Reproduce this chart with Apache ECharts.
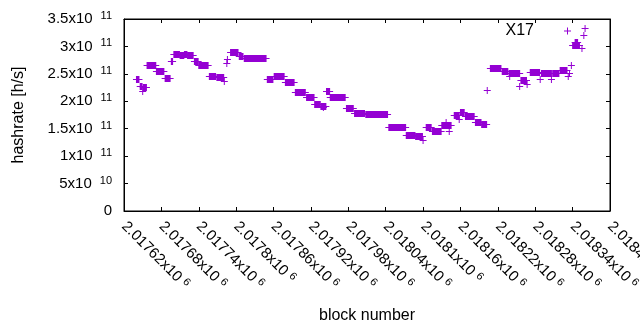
<!DOCTYPE html>
<html>
<head>
<meta charset="UTF-8">
<title>hashrate</title>
<style type="text/css">
	html, body { margin: 0; padding: 0; background: #fff; }
	#chart { width: 640px; height: 330px; }
</style>
<script type="text/javascript" src="https://cdn.jsdelivr.net/npm/echarts@6.0.0/dist/echarts.min.js"></script>
</head>
<body>
<div id="chart"></div>
<script type="text/javascript">
	// runs of blocks with the same hashrate (start == end for a single block)
	var blockStart = [2017640, 2017646, 2017650, 2017651, 2017657, 2017672, 2017686, 2017696, 2017700, 2017710,
		2017717, 2017722, 2017733, 2017740, 2017757, 2017769, 2017781, 2017785, 2017786, 2017791,
		2017805, 2017813, 2017850, 2017861, 2017879, 2017895, 2017913, 2017926, 2017936, 2017940,
		2017945, 2017951, 2017977, 2017990, 2018008, 2018045, 2018073, 2018088, 2018100, 2018105,
		2018115, 2018130, 2018137, 2018142, 2018150, 2018158, 2018160, 2018168, 2018184, 2018194,
		2018203, 2018208, 2018227, 2018238, 2018239, 2018255, 2018257, 2018267, 2018272, 2018288,
		2018290, 2018306, 2018308, 2018320, 2018333, 2018335, 2018338, 2018340, 2018344, 2018355,
		2018358, 2018360];
	var blockEnd = [2017644, 2017649, 2017650, 2017656, 2017671, 2017684, 2017694, 2017698, 2017709, 2017716,
		2017721, 2017731, 2017739, 2017755, 2017767, 2017780, 2017781, 2017785, 2017786, 2017803,
		2017811, 2017848, 2017859, 2017877, 2017893, 2017911, 2017925, 2017935, 2017944, 2017940,
		2017950, 2017975, 2017988, 2018006, 2018043, 2018072, 2018087, 2018099, 2018100, 2018113,
		2018129, 2018145, 2018137, 2018142, 2018158, 2018158, 2018166, 2018182, 2018193, 2018202,
		2018203, 2018225, 2018236, 2018255, 2018239, 2018255, 2018266, 2018267, 2018287, 2018288,
		2018306, 2018306, 2018318, 2018331, 2018333, 2018335, 2018338, 2018351, 2018348, 2018355,
		2018358, 2018360];
	var hashrate = [2.41e11, 2.28e11, 2.19e11, 2.26e11, 2.655e11, 2.55e11, 2.43e11, 2.74e11, 2.87e11, 2.85e11,
		2.87e11, 2.85e11, 2.73e11, 2.67e11, 2.465e11, 2.44e11, 2.37e11, 2.70e11, 2.77e11, 2.89e11,
		2.83e11, 2.78e11, 2.41e11, 2.465e11, 2.355e11, 2.175e11, 2.08e11, 1.945e11, 1.92e11, 1.89e11,
		2.19e11, 2.08e11, 1.885e11, 1.795e11, 1.775e11, 1.535e11, 1.39e11, 1.365e11, 1.30e11, 1.53e11,
		1.46e11, 1.565e11, 1.63e11, 1.46e11, 1.755e11, 1.68e11, 1.81e11, 1.74e11, 1.63e11, 1.59e11,
		2.20e11, 2.61e11, 2.55e11, 2.51e11, 2.47e11, 2.28e11, 2.39e11, 2.31e11, 2.53e11, 2.41e11,
		2.51e11, 2.41e11, 2.52e11, 2.57e11, 2.46e11, 2.52e11, 2.67e11, 3.03e11, 3.08e11, 2.97e11,
		3.20e11, 3.34e11];

	var xTickLabels = ['2.01762', '2.01768', '2.01774', '2.0178', '2.01786', '2.01792', '2.01798',
		'2.01804', '2.0181', '2.01816', '2.01822', '2.01828', '2.01834', '2.0184'];
	var yTickBase = ['0', '5x10', '1x10', '1.5x10', '2x10', '2.5x10', '3x10', '3.5x10'];
	var yTickExp = ['', '10', '11', '11', '11', '11', '11', '11'];

	var xMin = 2017620, xMax = 2018400, xStep = 60;
	var yMax = 3.5e11, yStep = 0.5e11;
	var purple = '#9400d3';
	var font = 'Liberation Sans';

	var data = [];
	for (var i = 0; i < blockStart.length; i++) {
		data.push([blockStart[i], blockEnd[i], hashrate[i]]);
	}

	var mychar = echarts.init(document.getElementById('chart'));

	// a run of "+" points: the vertical strokes merge into a bar
	function renderRun(params, api) {
		var p1 = api.coord([api.value(0), api.value(2)]);
		var p2 = api.coord([api.value(1), api.value(2)]);
		var y = Math.round(p1[1]);
		var x1 = p1[0], x2 = p2[0];
		return {
			type: 'group',
			children: [
				{ type: 'rect', shape: { x: x1 - 0.5, y: y - 3, width: x2 - x1 + 1, height: 7 }, style: { fill: purple } },
				{ type: 'rect', shape: { x: x1 - 3.5, y: y, width: x2 - x1 + 7, height: 1 }, style: { fill: purple } }
			]
		};
	}

	var axisLine = { show: true, onZero: false, lineStyle: { color: '#000', width: 1 } };
	var tick = { show: true, inside: true, length: 4, lineStyle: { color: '#000', width: 1 } };
	function supRich(gap) {
		return {
			b: { fontFamily: font, fontSize: 15, color: '#000', lineHeight: 17 },
			s: { fontFamily: font, fontSize: 11, color: '#000', verticalAlign: 'top', lineHeight: 17, padding: [0, 0, 0, gap] }
		};
	}

	var option = {
		animation: false,
		textStyle: { fontFamily: font },
		grid: {
			left: 124, right: 30, top: 19, bottom: 119,
			outerBoundsMode: 'none', containLabel: false,
			show: true, borderColor: '#000', borderWidth: 1, backgroundColor: 'transparent'
		},
		legend: {
			right: 69,
			top: 23,
			padding: 0,
			align: 'right',
			itemWidth: 7,
			itemHeight: 7,
			textStyle: { fontFamily: font, fontSize: 16, color: '#000', padding: [0, 25, 0, 0] },
			data: [{ name: 'X17', icon: 'path://M0,3H7V4H0Z M3,0H4V7H3Z', itemStyle: { color: purple } }]
		},
		xAxis: [{
			type: 'value',
			min: xMin,
			max: xMax,
			interval: xStep,
			name: 'block number',
			nameLocation: 'middle',
			nameGap: 97,
			nameTextStyle: { fontFamily: font, fontSize: 16, color: '#000' },
			axisLine: axisLine,
			axisTick: tick,
			splitLine: { show: false },
			axisLabel: {
				rotate: -45,
				margin: 13,
				color: '#000',
				fontFamily: font,
				showMaxLabel: true,
				hideOverlap: false,
				formatter: function (v) {
					var k = Math.round((v - xMin) / xStep);
					return '{b|' + xTickLabels[k] + 'x10}{s|6}';
				},
				rich: supRich(4)
			}
		}, {
			type: 'value',
			gridIndex: 0,
			position: 'top',
			min: xMin,
			max: xMax,
			interval: xStep,
			axisLine: axisLine,
			axisTick: tick,
			axisLabel: { show: false },
			splitLine: { show: false }
		}],
		yAxis: [{
			type: 'value',
			min: 0,
			max: yMax,
			interval: yStep,
			name: 'hashrate [h/s]',
			nameLocation: 'middle',
			nameGap: 97,
			nameTextStyle: { fontFamily: font, fontSize: 16, color: '#000' },
			axisLine: axisLine,
			axisTick: tick,
			splitLine: { show: false },
			axisLabel: {
				margin: 12,
				color: '#000',
				formatter: function (v) {
					var k = Math.round(v / yStep);
					if (!yTickExp[k]) return '{b|' + yTickBase[k] + '}';
					return '{b|' + yTickBase[k] + '}{s|' + yTickExp[k] + '}';
				},
				rich: supRich(8)
			}
		}, {
			type: 'value',
			gridIndex: 0,
			position: 'right',
			min: 0,
			max: yMax,
			interval: yStep,
			axisLine: axisLine,
			axisTick: tick,
			axisLabel: { show: false },
			splitLine: { show: false }
		}],
		series: [{
			name: 'X17',
			type: 'custom',
			xAxisIndex: 0,
			yAxisIndex: 0,
			renderItem: renderRun,
			itemStyle: { color: purple },
			encode: { x: [0, 1], y: 2 },
			data: data
		}, {
			// empty series so the mirrored top/right axes get drawn
			name: 'mirror',
			type: 'scatter',
			xAxisIndex: 1,
			yAxisIndex: 1,
			data: []
		}]
	};
	mychar.setOption(option);
</script>
</body>
</html>
